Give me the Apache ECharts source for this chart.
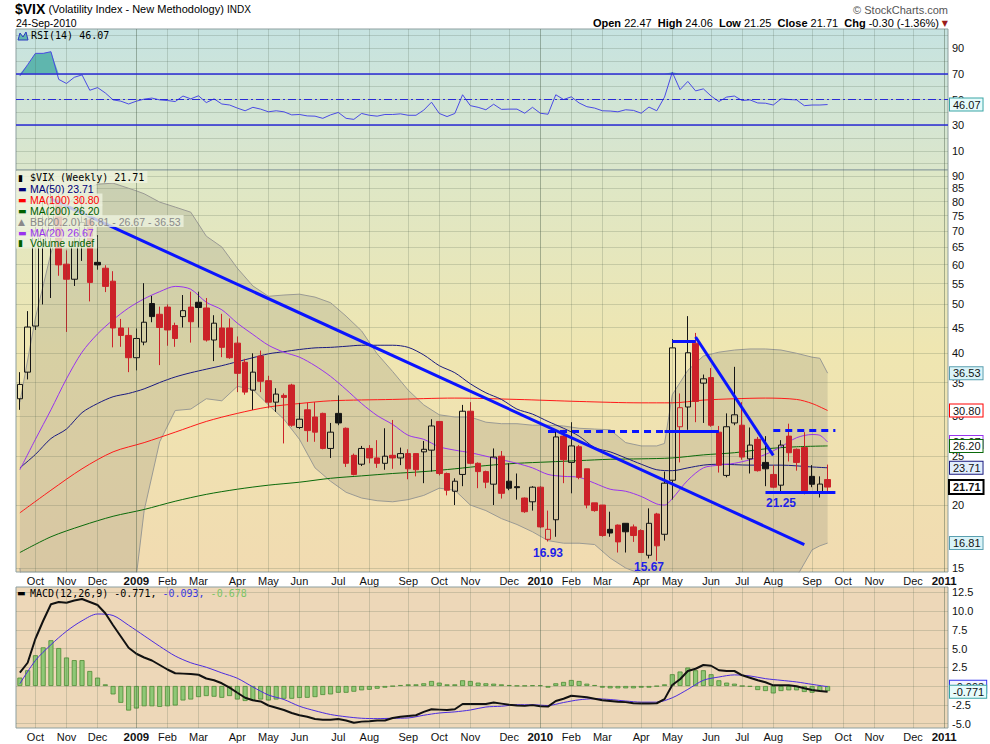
<!DOCTYPE html>
<html>
<head>
<meta charset="utf-8">
<script src="https://cdn.jsdelivr.net/npm/echarts@6.0.0/dist/echarts.min.js"></script>
<style>
html,body{margin:0;padding:0;background:#ffffff;}
#chart{width:990px;height:744px;}
</style>
</head>
<body>
<div id="chart"></div>
<script>
// ---------------- DATA ----------------
const firstWeek = [2008, 8, 26];   // Friday, 26-Sep-2008
const weekSlots = 120;             // axis runs to early Jan 2011

// weekly candles [open, high, low, close]
const ohlc = [
[32.5,36.7,30.9,34.7],[36.7,48.5,35.5,45.1],[45.3,76.9,44.5,69.9],[66.0,81.2,50.0,70.3],[69.9,89.5,51.5,79.1],
[80.6,84.0,57.0,59.9],[60.1,64.0,44.1,56.1],[56.1,69.0,54.4,66.3],[66.0,81.5,61.0,72.7],[73.5,74.0,50.7,55.3],
[60.6,68.6,58.6,59.9],[59.0,59.8,52.9,54.3],[55.6,58.2,41.1,44.9],[44.9,46.8,41.2,43.4],[43.4,45.0,36.7,39.2],
[39.2,44.8,37.0,42.8],[42.1,55.1,41.5,46.1],[50.2,52.0,46.1,47.3],[47.8,49.5,37.9,45.0],[49.4,50.0,41.4,44.5],
[45.4,46.0,41.2,42.8],[47.3,52.2,45.0,48.6],[49.4,53.0,42.0,46.2],[50.5,53.0,45.0,49.3],[49.2,51.5,42.2,42.5],
[42.5,47.6,38.6,45.9],[44.9,47.9,39.3,41.1],[44.9,46.9,39.0,39.2],[41.9,43.2,33.5,36.5],[38.4,39.0,33.1,33.5],
[33.8,40.0,30.9,36.7],[39.5,40.5,33.5,35.2],[35.3,36.1,31.1,32.0],[32.0,34.1,30.6,33.2],[33.0,33.3,26.5,32.7],
[34.6,34.8,28.6,28.8],[28.5,31.9,28.3,29.6],[30.9,31.9,26.7,28.1],[29.9,32.0,26.7,27.9],[30.4,30.5,25.8,25.9],
[25.9,29.1,24.8,27.9],[30.4,33.0,28.8,29.1],[28.4,28.5,23.8,24.2],[25.1,25.3,22.9,23.0],[24.1,26.2,23.9,25.9],
[25.9,26.3,24.2,24.8],[24.8,26.9,23.7,24.2],[24.2,28.4,23.5,25.0],[25.1,29.5,23.6,24.8],[24.8,26.0,24.0,25.3],
[25.3,25.8,22.5,23.6],[25.3,25.3,22.8,23.5],[25.5,26.8,22.1,25.8],[25.7,29.6,23.3,28.7],[29.3,29.3,22.9,23.1],
[23.1,23.2,20.9,21.4],[21.3,22.6,20.0,22.3],[23.0,31.6,21.8,30.7],[30.7,32.0,24.1,24.2],[24.2,24.3,21.6,23.3],
[23.3,23.4,21.6,22.2],[22.0,25.9,20.0,24.9],[25.0,25.6,20.6,21.1],[22.3,24.2,21.4,21.6],[21.75,23.1,20.5,21.65],
[20.65,20.7,19.3,19.4],[20.3,21.8,19.5,21.7],[21.7,21.8,18.0,18.1],[17.1,19.5,16.93,17.9],[18.7,28.2,17.3,27.3],
[27.4,28.2,22.1,24.6],[24.3,29.2,21.1,26.2],[26.1,26.3,22.5,22.7],[23.6,23.6,19.7,20.0],[20.2,20.2,19.4,19.5],
[20.0,20.0,17.3,17.4],[17.9,19.4,17.3,17.6],[18.25,18.3,16.1,16.9],[18.4,18.4,16.1,17.7],[18.1,18.3,16.9,17.4],
[17.8,17.9,16.1,16.1],[15.9,19.7,15.67,18.4],[19.2,19.3,15.5,16.6],[17.5,23.3,17.0,22.1],[22.4,42.7,20.5,41.0],
[28.6,33.3,24.3,31.2],[31.3,47.4,28.2,40.1],[41.9,43.9,29.2,32.1],[34.9,36.3,29.1,35.6],[35.8,37.4,28.6,28.8],
[27.9,28.7,23.2,24.0],[22.9,30.4,22.7,28.6],[29.1,37.6,28.8,30.2],[28.8,32.0,24.6,24.9],[24.7,28.5,23.1,26.3],
[27.0,27.3,23.3,23.4],[24.3,27.4,21.8,23.6],[23.0,24.0,21.6,21.7],[21.9,26.9,21.3,26.3],[27.4,29.0,24.4,25.4],
[25.8,25.9,23.4,24.3],[26.0,27.9,21.0,21.1],[22.8,24.0,21.7,21.99],[21.1,22.8,20.7,22.01],[22.47,24.06,21.25,21.71]
];

// overlays read as [weekIndex, value]
const ma20 = [[0,23.5],[2,27.0],[4,30.9],[6,35.6],[8,40.2],[10,43.7],[12,46.6],[14,49.2],[16,51.3],[18,53.0],[20,54.3],[22,53.6],[24,50.5],[26,48.8],[28,45.9],[30,43.6],[32,41.5],[34,40.2],[36,39.3],[38,37.8],[40,36.0],[42,33.9],[44,31.8],[46,30.1],[48,28.9],[50,27.5],[52,27.0],[54,26.1],[56,25.7],[58,25.4],[60,25.0],[62,24.6],[64,24.2],[66,23.7],[68,23.0],[70,22.8],[72,22.7],[74,22.1],[76,21.5],[78,21.3],[80,20.8],[82,20.1],[83,20.0],[84,20.6],[86,22.4],[88,23.7],[90,24.0],[92,24.2],[94,24.6],[96,25.2],[98,26.1],[100,27.2],[102,27.6],[103,27.5],[104,26.67]];
const bbUpper = [[0,32.0],[2,47.0],[4,63.2],[6,78.7],[8,84.0],[10,86.6],[12,87.0],[14,85.0],[15,84.0],[16,82.9],[18,79.8],[20,78.0],[22,76.2],[24,68.3],[26,65.0],[28,59.0],[30,54.4],[32,51.9],[34,52.2],[36,52.4],[38,51.7],[40,50.4],[42,47.4],[44,44.3],[46,39.9],[48,36.8],[50,33.8],[52,31.6],[54,30.2],[56,29.9],[58,29.9],[60,29.2],[62,29.0],[64,29.0],[66,28.8],[68,28.8],[70,28.7],[72,28.4],[74,28.3],[76,28.2],[78,26.6],[80,26.2],[82,26.2],[83,26.5],[84,33.1],[86,37.0],[88,39.5],[90,40.2],[92,40.6],[94,40.8],[96,40.8],[98,40.6],[100,40.0],[102,39.3],[103,39.1],[104,36.53]];
const bbLower = [[0,15.0],[2,8],[4,8],[6,8],[8,8],[10,8],[12,8],[14,8],[15,14.5],[16,19.5],[18,26.7],[20,30.8],[22,31.0],[24,32.5],[26,32.2],[28,34.4],[30,33.9],[32,31.6],[34,29.6],[36,27.0],[38,23.7],[40,22.3],[42,21.2],[44,20.65],[46,20.4],[48,20.3],[50,20.5],[52,20.9],[54,21.6],[56,21.4],[58,20.0],[60,19.5],[62,18.8],[64,18.3],[66,17.7],[68,17.0],[70,16.8],[72,16.8],[74,16.7],[76,15.7],[78,15.0],[80,14.6],[82,14.0],[83,13.5],[84,8],[86,8],[88,8],[90,8],[92,8],[94,8],[96,8],[98,8],[100,14.4],[102,16.3],[103,16.6],[104,16.81]];
const ma50 = [[0,23.7],[2,25.2],[4,27.1],[6,28.3],[8,30.5],[10,31.8],[12,32.8],[14,33.3],[16,34.0],[18,35.0],[20,35.9],[22,36.6],[24,37.2],[26,37.8],[28,38.5],[30,39.2],[32,39.9],[34,40.3],[36,40.7],[38,41.0],[40,41.1],[42,41.3],[44,41.5],[46,41.5],[48,41.5],[50,41.1],[52,39.7],[54,37.8],[56,36.6],[58,34.8],[60,33.4],[62,32.4],[64,31.0],[66,30.3],[68,29.3],[70,28.4],[72,27.4],[74,26.0],[76,25.5],[78,24.8],[80,24.1],[82,23.5],[84,23.4],[86,23.7],[88,24.0],[90,24.1],[94,24.0],[98,24.0],[102,23.8],[104,23.71]];
const ma100 = [[0,19.3],[4,21.4],[8,23.6],[12,25.5],[16,26.6],[20,27.9],[24,29.3],[28,30.4],[32,31.3],[36,31.8],[40,32.2],[48,32.4],[56,32.6],[64,32.4],[72,32.1],[80,31.9],[84,31.9],[88,32.3],[92,32.5],[96,32.6],[100,32.4],[102,31.8],[104,30.8]];
const ma200 = [[0,16.1],[4,17.3],[8,18.2],[12,19.0],[16,19.6],[20,20.35],[24,21.0],[28,21.5],[32,21.9],[36,22.2],[40,22.6],[44,22.85],[48,23.1],[52,23.3],[56,23.6],[60,23.95],[64,24.2],[68,24.35],[72,24.5],[76,24.65],[80,24.7],[84,24.8],[88,25.15],[92,25.4],[96,25.85],[100,26.1],[104,26.2]];

// RSI(14), one value per week
const rsi = [68.4,77.2,86,86,87.3,65.7,62.5,67.3,69.2,57.2,59.3,55.1,49.7,48.7,46.5,48.7,50.3,51.1,49.7,49.2,
48.4,52.7,50.5,52.9,47.6,50.5,46.5,45.7,43.3,41.2,43.9,42.5,40.4,41.2,40.4,38.0,38.3,37.2,37.0,35.3,
38.0,39.9,35.3,34.5,39.1,37.7,37.0,38.3,38.3,38.8,37.7,37.7,41.7,47.9,39.1,36.7,39.1,53.7,45.2,43.9,
42.0,46.3,42.3,42.5,42.5,39.3,43.9,39.3,38.5,53.7,50.0,52.1,47.3,44.4,43.3,41.2,41.0,40.4,42.0,41.5,
39.3,44.1,41.2,51.9,71.3,57.7,64.1,56.7,58.3,52.7,48.4,51.9,52.7,49.2,49.7,47.3,47.1,45.7,50.5,50.0,
49.7,45.2,45.7,45.7,46.07];

// MACD(12,26,9)
const macd = [1.79,3.1,6.3,8.7,10.9,11.2,11.1,11.4,11.6,11.2,10.8,9.7,8.1,6.6,5.1,4.3,3.8,3.4,2.8,2.2,
1.7,1.65,1.6,1.5,1.0,0.76,0.36,-0.22,-0.9,-1.57,-1.9,-2.06,-2.6,-2.9,-3.2,-3.6,-3.9,-4.1,-4.4,-4.5,
-4.5,-4.4,-4.6,-4.9,-4.75,-4.7,-4.6,-4.6,-4.26,-4.1,-4.0,-3.9,-3.45,-3.1,-3.15,-3.2,-3.1,-2.4,-2.4,-2.4,
-2.4,-2.2,-2.35,-2.5,-2.6,-2.65,-2.55,-2.7,-2.75,-2.0,-1.7,-1.3,-1.4,-1.5,-1.7,-1.9,-2.0,-2.1,-2.15,-2.3,
-2.33,-2.33,-2.3,-1.75,0.13,0.9,2.0,2.3,2.8,2.7,2.1,2.0,2.0,1.43,1.1,0.76,0.5,0.09,0.09,0.09,
-0.04,-0.3,-0.54,-0.67,-0.771];
const macdSignal = [[0,0.31],[2,3.4],[4,5.5],[6,7.3],[8,8.7],[10,9.6],[12,9.4],[14,8.1],[16,6.7],[18,5.3],[20,4.0],[22,3.1],[24,2.5],[26,1.75],[28,1.03],[30,-0.13],[32,-1.2],[34,-1.8],[36,-2.7],[38,-3.3],[40,-3.8],[42,-4.1],[44,-4.3],[46,-4.35],[48,-4.3],[50,-4.26],[52,-3.9],[54,-3.6],[56,-3.45],[58,-3.2],[60,-2.8],[62,-2.7],[64,-2.5],[66,-2.5],[68,-2.6],[70,-2.2],[72,-1.84],[74,-1.7],[76,-1.8],[78,-2.0],[80,-2.15],[82,-2.15],[84,-1.57],[86,-0.45],[88,0.76],[90,1.2],[92,1.48],[94,1.34],[96,0.98],[98,0.76],[100,0.54],[102,0.22],[104,-0.093]];
const macdHist = [1.12,2.1,4.1,5.15,6.1,5.06,3.8,3.45,3.45,2.0,1.12,0.22,-1.12,-2.24,-3.27,-3.0,-2.7,-2.7,-2.78,-2.7,
-2.6,-1.93,-1.8,-1.48,-1.34,-1.43,-1.57,-1.34,-1.8,-2.0,-1.93,-1.8,-1.93,-1.8,-1.7,-1.7,-1.6,-1.57,-1.48,-1.2,
-1.12,-0.9,-0.9,-0.76,-0.58,-0.5,-0.36,-0.22,-0.04,0.13,0.22,0.22,0.36,0.67,0.45,0.22,0.22,0.76,0.67,0.45,
0.36,0.31,0.22,0.13,0.04,0.04,0.09,0.09,-0.22,0.36,0.54,0.8,0.67,0.31,0.13,-0.22,-0.31,-0.31,-0.31,-0.31,
-0.22,-0.22,-0.04,0.22,1.57,1.93,2.46,2.1,2.1,1.57,0.76,0.45,0.31,0.0,-0.09,-0.54,-0.67,-0.99,-0.67,-0.58,
-0.58,-0.8,-0.9,-0.67,-0.678];

// drawn trend lines / levels: [[weekIndex, value], [weekIndex, value]]
const trendLines = [
  [[4,81.0],[101,16.7]],
  [[84,42.3],[87,42.3]],
  [[87,43.1],[97,25.1]],
  [[83,28.0],[90,28.0]],
  [[96,21.25],[105,21.25]]
];
const dashedLevels = [
  [[68,28.0],[83,28.0]],
  [[97,28.1],[105,28.1]]
];
// text annotations [weekIndex, value, text]
const notes = [[68,16.06,'16.93'],[81,15.1,'15.67'],[98,20.18,'21.25']];

// axis tick labels
const mainTicks = [15,20,25,30,35,40,45,50,55,60,65,70,75,80,85,90];
const rsiTicks = [10,30,50,70,90];
const rsiGrid = [0,10,20,30,40,50,60,70,80,90,100];
const macdGrid = [-5,-2.5,0,2.5,5,7.5,10,12.5];
const macdTicks = [-5,-2.5,2.5,5,7.5,10,12.5];
const monthNames = ['Jan','Feb','Mar','Apr','May','Jun','Jul','Aug','Sep','Oct','Nov','Dec'];

// ---------------- BUILD ----------------
const FONT = '"Liberation Sans", Arial, sans-serif';
const MONO = '"DejaVu Sans Mono", monospace';
const GRIDC = 'rgba(70,90,70,0.2)';
const YEARC = 'rgba(70,90,70,0.42)';

const categories = [];
for (let k = 0; k < weekSlots; k++) {
  const d = new Date(Date.UTC(firstWeek[0], firstWeek[1], firstWeek[2] + 7 * k));
  categories.push(d.toISOString().slice(0, 10));
}
function mondayOf(v) { const d = new Date(v + 'T00:00:00Z'); d.setUTCDate(d.getUTCDate() - 4); return d; }
const monthSet = new Set(); const yearSet = new Set();
for (let k = 1; k < categories.length; k++) {
  const a = mondayOf(categories[k - 1]).getUTCMonth(), b = mondayOf(categories[k]).getUTCMonth();
  if (a !== b) { monthSet.add(k); if (b === 0) yearSet.add(k); }
}
function monthLabel(v) { const d = mondayOf(v); const m = d.getUTCMonth(); return m === 0 ? '{y|' + d.getUTCFullYear() + '}' : monthNames[m]; }
const vlines = () => Array.from(monthSet).map(i => ({ xAxis: i, lineStyle: { color: yearSet.has(i) ? YEARC : GRIDC, width: 1, type: 'solid' } }));

const RED = '#cc2229', BLK = '#141414';
const candleData = ohlc.map((d, i) => {
  const [o, h, l, c] = d;
  const prev = i > 0 ? ohlc[i - 1][3] : -Infinity;
  const col = c >= prev ? BLK : RED;
  const fill = c > o ? 'rgba(0,0,0,0)' : col;
  return { value: [o, c, l, h], itemStyle: { color: fill, color0: fill, borderColor: col, borderColor0: col, borderColorDoji: col, borderWidth: 1 } };
});
const bbDiff = bbUpper.map((p, k) => [p[0], +(p[1] - bbLower[k][1]).toFixed(3)]);
const rsiBase = rsi.map(() => 70);
const rsiOver = rsi.map(v => Math.max(v - 70, 0));

function tag(v, text, border, bg, bold) {
  return { yAxis: v, lineStyle: { width: 0, color: 'rgba(0,0,0,0)' },
    label: { show: true, position: 'end', distance: 2, formatter: text, color: '#111', fontSize: 11, fontFamily: FONT,
      fontWeight: bold ? 'bold' : 'normal', backgroundColor: bg, borderColor: border, borderWidth: bold ? 2 : 1, padding: [1, 2, 0, 3] } };
}
const trendStyle = { color: '#0a14ff', width: 3, type: 'solid' };
const dashStyle = { color: '#0a14ff', width: 3, type: [7, 5] };
const trendMarks = trendLines.map(s => [{ coord: s[0], lineStyle: trendStyle }, { coord: s[1], lineStyle: trendStyle }])
  .concat(dashedLevels.map(s => [{ coord: s[0], lineStyle: dashStyle }, { coord: s[1], lineStyle: dashStyle }]));

const lineBase = { type: 'line', symbol: 'none', showSymbol: false, connectNulls: true, silent: true, animation: false };

const xAx = (gi, show) => ({
  type: 'category', gridIndex: gi, data: categories, boundaryGap: true,
  axisLine: { show: false }, axisTick: { show: false }, splitLine: { show: false },
  axisLabel: { show: show, interval: (idx) => monthSet.has(idx), formatter: monthLabel, color: '#111', fontSize: 11, fontFamily: FONT, margin: 3,
    rich: { y: { fontWeight: 'bold', fontSize: 11.5, fontFamily: FONT, color: '#111' } } }
});
const yLabel = { color: '#111', fontSize: 11, fontFamily: FONT, margin: 4 };

const option = {
  animation: false,
  backgroundColor: '#ffffff',
  grid: [
    { left: 16, right: 42, top: 29, height: 141, show: true, borderColor: '#8d9f9f', borderWidth: 1, outerBoundsMode: 'none',
      backgroundColor: { type: 'linear', x: 0, y: 0, x2: 0, y2: 1, colorStops: [{ offset: 0, color: '#c6e3e1' }, { offset: 1, color: '#dbe6cb' }] } },
    { left: 16, right: 42, top: 170, height: 402, show: true, borderColor: '#8d9f9f', borderWidth: 1, outerBoundsMode: 'none',
      backgroundColor: { type: 'linear', x: 0, y: 0, x2: 0, y2: 1, colorStops: [{ offset: 0, color: '#dde7c7' }, { offset: 0.45, color: '#efe6b1' }, { offset: 1, color: '#f1dbb1' }] } },
    { left: 16, right: 42, top: 587, height: 141, show: true, borderColor: '#8d9f9f', borderWidth: 1, outerBoundsMode: 'none',
      backgroundColor: '#edd7b8' }
  ],
  xAxis: [xAx(0, false), xAx(1, true), xAx(2, true)],
  yAxis: [
    { type: 'value', gridIndex: 0, position: 'right', min: -5, max: 105, axisLine: { show: false },
      axisTick: { show: false, customValues: rsiGrid }, axisLabel: Object.assign({ customValues: rsiTicks }, yLabel),
      splitLine: { show: true, lineStyle: { color: GRIDC, width: 1 } } },
    { type: 'log', logBase: 10, gridIndex: 1, position: 'right', min: 14.73, max: 92.4, axisLine: { show: false },
      axisTick: { show: false, customValues: mainTicks }, axisLabel: Object.assign({ customValues: mainTicks, formatter: v => String(Math.round(v)) }, yLabel),
      splitLine: { show: true, lineStyle: { color: GRIDC, width: 1 } } },
    { type: 'value', gridIndex: 2, position: 'right', min: -5.6, max: 13.2, axisLine: { show: false },
      axisTick: { show: false, customValues: macdGrid }, axisLabel: Object.assign({ customValues: macdTicks, formatter: v => v.toFixed(1) }, yLabel),
      splitLine: { show: true, lineStyle: { color: GRIDC, width: 1 } } }
  ],
  series: [
    // ---- RSI panel ----
    Object.assign({}, lineBase, { name: 'rsiBase', xAxisIndex: 0, yAxisIndex: 0, stack: 'rsi', data: rsiBase, lineStyle: { width: 0, opacity: 0 }, z: 1 }),
    Object.assign({}, lineBase, { name: 'rsiOver', xAxisIndex: 0, yAxisIndex: 0, stack: 'rsi', data: rsiOver, lineStyle: { width: 0, opacity: 0 },
      areaStyle: { color: '#5fb6ae', opacity: 1 }, z: 1 }),
    Object.assign({}, lineBase, { name: 'RSI', xAxisIndex: 0, yAxisIndex: 0, data: rsi, lineStyle: { color: '#4a4ae4', width: 1 }, z: 3,
      markLine: { silent: true, symbol: ['none', 'none'], label: { show: false }, animation: false,
        data: vlines().concat([
          { yAxis: 70, lineStyle: { color: '#2a2ad6', width: 1.5, type: 'solid' } },
          { yAxis: 30, lineStyle: { color: '#2a2ad6', width: 1.5, type: 'solid' } },
          { yAxis: 50, lineStyle: { color: '#2a2ad6', width: 1, type: [8, 3, 2, 3] } },
          tag(46.07, '46.07', '#3aa5a5', '#e6fbfb', false)
        ]) } }),
    // ---- price panel ----
    Object.assign({}, lineBase, { name: 'bbLower', xAxisIndex: 1, yAxisIndex: 1, stack: 'bb', data: bbLower, lineStyle: { color: '#9a9a94', width: 1 }, z: 1,
      markLine: { silent: true, symbol: ['none', 'none'], label: { show: false }, animation: false, data: vlines() } }),
    Object.assign({}, lineBase, { name: 'bbUpper', xAxisIndex: 1, yAxisIndex: 1, stack: 'bb', data: bbDiff, lineStyle: { color: '#9a9a94', width: 1 },
      areaStyle: { color: 'rgba(115,115,105,0.28)' }, z: 1 }),
    Object.assign({}, lineBase, { name: 'MA(200)', xAxisIndex: 1, yAxisIndex: 1, data: ma200, smooth: 0.3, lineStyle: { color: '#0a6a0a', width: 1 }, z: 2 }),
    Object.assign({}, lineBase, { name: 'MA(100)', xAxisIndex: 1, yAxisIndex: 1, data: ma100, smooth: 0.3, lineStyle: { color: '#ff1a1a', width: 1 }, z: 2 }),
    Object.assign({}, lineBase, { name: 'MA(50)', xAxisIndex: 1, yAxisIndex: 1, data: ma50, smooth: 0.3, lineStyle: { color: '#1a1a80', width: 1 }, z: 2 }),
    Object.assign({}, lineBase, { name: 'MA(20)', xAxisIndex: 1, yAxisIndex: 1, data: ma20, smooth: 0.3, lineStyle: { color: '#9933ee', width: 1 }, z: 2 }),
    { name: '$VIX', type: 'candlestick', xAxisIndex: 1, yAxisIndex: 1, data: candleData, barWidth: 6, silent: true, animation: false, z: 3,
      markLine: { silent: true, symbol: ['none', 'none'], label: { show: false }, animation: false,
        data: trendMarks.concat([
          tag(36.53, '36.53', '#5a9fb0', '#d9f3f8', false),
          tag(30.80, '30.80', '#ff0000', '#ffffff', false),
          tag(26.67, '26.67', '#9933ee', '#ffffff', false),
          tag(26.20, '26.20', '#0a6a0a', '#ffffff', false),
          tag(23.71, '23.71', '#1a1a80', '#e2eefc', false),
          tag(21.71, '21.71', '#000000', '#ffffff', true),
          tag(16.81, '16.81', '#5a9fb0', '#d9f3f8', false)
        ]) },
      markPoint: { silent: true, animation: false, symbol: 'circle', symbolSize: 1, itemStyle: { color: 'rgba(0,0,0,0)' },
        label: { show: true, position: 'inside', color: '#1f1fe8', fontWeight: 'bold', fontSize: 12, fontFamily: FONT, formatter: p => p.name },
        data: notes.map(n => ({ coord: [n[0], n[1]], name: n[2], value: n[1] })) } },
    // ---- MACD panel ----
    { name: 'hist', type: 'bar', xAxisIndex: 2, yAxisIndex: 2, data: macdHist, barWidth: 5, silent: true, animation: false, z: 2,
      itemStyle: { color: '#8fc776', borderColor: '#4c8c34', borderWidth: 0.8 },
      markLine: { silent: true, symbol: ['none', 'none'], label: { show: false }, animation: false,
        data: vlines().concat([
          tag(-0.093, '-0.093', '#3333ee', '#f4f4ff', false),
          tag(-0.771, '-0.771', '#3aa5a5', '#e6fbfb', false)
        ]) } },
    Object.assign({}, lineBase, { name: 'signal', xAxisIndex: 2, yAxisIndex: 2, data: macdSignal, smooth: 0.3, lineStyle: { color: '#4b2be0', width: 1 }, z: 3 }),
    Object.assign({}, lineBase, { name: 'MACD', xAxisIndex: 2, yAxisIndex: 2, data: macd, lineStyle: { color: '#111111', width: 2 }, z: 4 })
  ]
};

// ---------------- TEXT ----------------
const legendBg = 'rgba(238,242,222,0.8)';
const legendLines = [
  ['▮', '$VIX (Weekly) 21.71', '#000000', true],
  ['▬', 'MA(50) 23.71', '#00007a', false],
  ['▬', 'MA(100) 30.80', '#ff0000', false],
  ['▬', 'MA(200) 26.20', '#006000', false],
  ['▲', 'BB(20,2.0) 16.81 - 26.67 - 36.53', '#8a8a8a', false],
  ['▬', 'MA(20) 26.67', '#9933ee', false],
  ['▮', 'Volume undef', '#006000', false]
];
const legendY = [177, 188, 199.5, 210.5, 221, 232, 242.5];
const gfx = [];
gfx.push({ type: 'text', left: 15, top: 2, z: 100, style: { text: '{a|$VIX} {b|(Volatility Index - New Methodology)} {c|INDX}', fontSize: 11, fontFamily: FONT, fill: '#000',
  rich: { a: { fontSize: 14, fontWeight: 'bold', fontFamily: FONT, fill: '#000' }, b: { fontSize: 11, fontFamily: FONT, fill: '#000' }, c: { fontSize: 10, fontFamily: FONT, fill: '#000' } } } });
gfx.push({ type: 'text', left: 16, top: 17, z: 100, style: { text: '24-Sep-2010', fontSize: 10.5, fontFamily: FONT, fill: '#000' } });
gfx.push({ type: 'text', right: 42, top: 4, z: 100, style: { text: '© StockCharts.com', fontSize: 11, fontFamily: FONT, fill: '#555' } });
gfx.push({ type: 'text', right: 51, top: 17, z: 100, style: { text: '{l|Open} 22.47  {l|High} 24.06  {l|Low} 21.25  {l|Close} 21.71  {l|Chg} -0.30 (-1.36%)',
  fontSize: 11, fontFamily: FONT, fill: '#000', rich: { l: { fontSize: 11, fontWeight: 'bold', fontFamily: FONT, fill: '#000' } } } });
gfx.push({ type: 'text', right: 42, top: 19, z: 100, style: { text: '▼', fontSize: 8, fontFamily: '"DejaVu Sans"', fill: '#9b1b1b' } });
// RSI label
gfx.push({ type: 'polygon', z: 100, shape: { points: [[18, 40], [20, 33], [23, 37], [26, 32], [28, 40]] }, style: { fill: '#5fb6ae', stroke: '#2a3ac0', lineWidth: 1 } });
gfx.push({ type: 'text', left: 31, top: 30, z: 100, style: { text: 'RSI(14) 46.07', fontSize: 10, fontFamily: MONO, fill: '#000' } });
// price legend
legendLines.forEach((l, k) => {
  gfx.push({ type: 'text', left: 16, top: legendY[k] - 6, z: 100, style: {
    text: '{i|' + l[0] + '}{t|' + l[1] + '}', backgroundColor: legendBg, padding: [1, 3, 0, 2],
    rich: { i: { width: 12, fontSize: 9, fontFamily: '"DejaVu Sans"', fill: l[2], lineHeight: 11 },
            t: { fontSize: l[3] ? 10 : 10.5, fontFamily: l[3] ? MONO : FONT, fill: l[2], lineHeight: 11 } } } });
});
// MACD label
gfx.push({ type: 'text', left: 17, top: 588, z: 100, style: {
  text: '{i|▬}{k|MACD(12,26,9) -0.771,}{b| -0.093,}{g| -0.678}',
  rich: { i: { width: 13, fontSize: 9, fontFamily: '"DejaVu Sans"', fill: '#000', lineHeight: 12 },
          k: { fontSize: 10, fontFamily: MONO, fill: '#000', lineHeight: 12 },
          b: { fontSize: 10, fontFamily: MONO, fill: '#3a3ae0', lineHeight: 12 },
          g: { fontSize: 10, fontFamily: MONO, fill: '#7cc466', lineHeight: 12 } } } });
option.graphic = { elements: gfx };

const chart = echarts.init(document.getElementById('chart'), null, { renderer: 'svg', width: 990, height: 744 });
chart.setOption(option);
</script>
</body>
</html>
